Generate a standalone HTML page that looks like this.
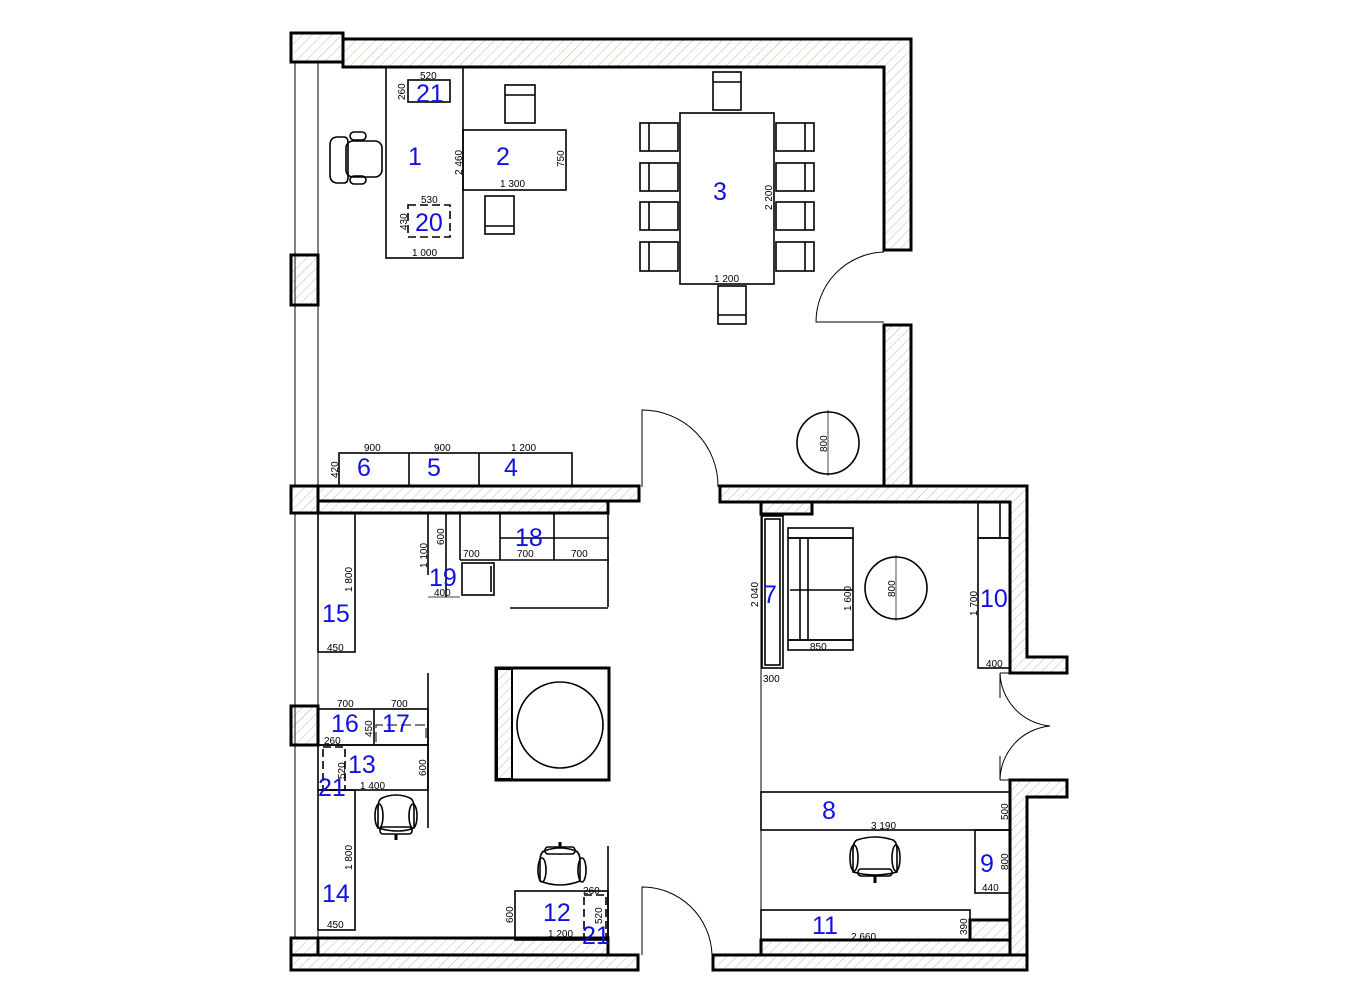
<!DOCTYPE html>
<html><head><meta charset="utf-8"><style>
html,body{margin:0;padding:0;background:#fff;}
svg{display:block;}
.d{font-family:"Liberation Sans",sans-serif;font-size:10px;fill:#000;}
.n{font-family:"Liberation Sans",sans-serif;font-size:25px;fill:#1010e0;}
</style></head><body>
<svg width="1352" height="1000" viewBox="0 0 1352 1000" xmlns="http://www.w3.org/2000/svg">
<defs>
<pattern id="h" patternUnits="userSpaceOnUse" width="7" height="7" patternTransform="rotate(45)">
<rect width="7" height="7" fill="#fff"/>
<line x1="0" y1="0" x2="0" y2="7" stroke="#a9c9a0" stroke-width="1"/>
</pattern>
</defs>
<g stroke="#000" fill="url(#h)" stroke-width="3">
<!-- top wall -->
<polygon points="343,39 911,39 911,250 884,250 884,67 343,67"/>
<rect x="291" y="33" width="52" height="29"/>
<rect x="884" y="325" width="27" height="162"/>
<!-- left pillar -->
<rect x="291" y="255" width="27" height="50"/>
<!-- middle walls -->
<rect x="291" y="486" width="27" height="27"/>
<rect x="318" y="486" width="321" height="15"/>
<rect x="318" y="501" width="290" height="12"/>
<polygon points="720,486 1027,486 1027,657 1067,657 1067,673 1010,673 1010,502 720,502"/>
<rect x="761" y="502" width="51" height="12"/>
<polygon points="1010,780 1067,780 1067,797 1027,797 1027,970 1010,970"/>
<rect x="291" y="706" width="27" height="39"/>
<!-- bottom walls -->
<rect x="291" y="938" width="27" height="17"/>
<rect x="318" y="938" width="290" height="17"/>
<rect x="291" y="955" width="347" height="15"/>
<rect x="713" y="955" width="314" height="15"/>
<rect x="761" y="940" width="249" height="15"/>
<rect x="970" y="920" width="40" height="20"/>
</g>
<g stroke="#000" fill="none" stroke-width="1">
<!-- window lines -->
<line x1="295" y1="62" x2="295" y2="486"/><line x1="318" y1="62" x2="318" y2="486"/>
<line x1="295" y1="513" x2="295" y2="938"/><line x1="318" y1="513" x2="318" y2="938"/>
<!-- doors -->
<path d="M884,252 A70,70 0 0 0 816,322 L884,322"/>
<path d="M642,487 L642,410 A76,76 0 0 1 718,487"/>
<path d="M642,955 L642,887 A70,70 0 0 1 712,955"/>
<path d="M1000,673 A55,55 0 0 0 1050,726"/>
<path d="M1000,780 A55,55 0 0 1 1050,726"/>
<line x1="1000" y1="673" x2="1010" y2="673"/><line x1="1000" y1="780" x2="1010" y2="780"/>
<line x1="1000" y1="673" x2="1000" y2="698"/><line x1="1000" y1="780" x2="1000" y2="756"/>
<!-- room right interior line -->
<line x1="761" y1="514" x2="761" y2="940"/>
</g>
<g stroke="#000" fill="none" stroke-width="1.6">
<!-- desk 1,2 -->
<rect x="386" y="67" width="77" height="191"/>
<rect x="463" y="130" width="103" height="60"/>
<rect x="408" y="80" width="42" height="22"/>
<rect x="408" y="205" width="42" height="32" stroke-dasharray="8,4"/>
<!-- office chair left -->
<path d="M338,137 q-8,0 -8,8 v30 q0,8 8,8 h6 q4,0 4,-6 v-34 q0,-6 -4,-6z"/>
<rect x="346" y="141" width="36" height="36" rx="7"/>
<rect x="350" y="132" width="16" height="8" rx="4"/>
<rect x="350" y="176" width="16" height="8" rx="4"/>
<!-- small chairs -->
<rect x="505" y="85" width="30" height="38"/><line x1="505" y1="95" x2="535" y2="95"/>
<rect x="485" y="196" width="29" height="38"/><line x1="485" y1="226" x2="514" y2="226"/>
<!-- table 3 -->
<rect x="680" y="113" width="94" height="171"/>
<rect x="713" y="72" width="28" height="38"/><line x1="713" y1="82" x2="741" y2="82"/>
<rect x="718" y="286" width="28" height="38"/><line x1="718" y1="315" x2="746" y2="315"/>
<rect x="640" y="123" width="38" height="28"/><line x1="649" y1="123" x2="649" y2="151"/>
<rect x="640" y="163" width="38" height="28"/><line x1="649" y1="163" x2="649" y2="191"/>
<rect x="640" y="202" width="38" height="28"/><line x1="649" y1="202" x2="649" y2="230"/>
<rect x="640" y="242" width="38" height="29"/><line x1="649" y1="242" x2="649" y2="271"/>
<rect x="776" y="123" width="38" height="28"/><line x1="805" y1="123" x2="805" y2="151"/>
<rect x="776" y="163" width="38" height="28"/><line x1="805" y1="163" x2="805" y2="191"/>
<rect x="776" y="202" width="38" height="28"/><line x1="805" y1="202" x2="805" y2="230"/>
<rect x="776" y="242" width="38" height="29"/><line x1="805" y1="242" x2="805" y2="271"/>
<circle cx="828" cy="443" r="31"/><line x1="828" y1="410" x2="828" y2="476" stroke-width="0.7"/>
<!-- cabinets 4,5,6 -->
<rect x="339" y="453" width="233" height="33"/>
<line x1="409" y1="453" x2="409" y2="486"/><line x1="479" y1="453" x2="479" y2="486"/>
<!-- 15 -->
<rect x="318" y="513" width="37" height="139"/>
<!-- kitchen 18 -->
<line x1="428" y1="513" x2="428" y2="575"/>
<line x1="446" y1="513" x2="446" y2="597"/>
<line x1="460" y1="513" x2="460" y2="560"/>
<line x1="500" y1="513" x2="500" y2="560"/>
<line x1="554" y1="513" x2="554" y2="560"/>
<line x1="460" y1="560" x2="609" y2="560"/>
<line x1="500" y1="538" x2="609" y2="538"/>
<line x1="608" y1="513" x2="608" y2="607"/>
<line x1="510" y1="608" x2="608" y2="608"/>
<rect x="462" y="563" width="32" height="32"/><line x1="491" y1="566" x2="491" y2="592"/>
<line x1="428" y1="597" x2="460" y2="597" stroke-width="0.8"/>
<!-- column -->
<rect x="496" y="668" width="113" height="112" stroke-width="3"/>
<rect x="497" y="669" width="15" height="110" fill="url(#h)" stroke-width="2"/>
<circle cx="560" cy="725" r="43"/>
<!-- 16,17,13 -->
<line x1="428" y1="673" x2="428" y2="828"/>
<rect x="318" y="709" width="110" height="36"/>
<line x1="374" y1="709" x2="374" y2="745"/>
<path d="M376,742 v-17 h50 v17" stroke-dasharray="10,4" stroke-width="1"/>
<rect x="318" y="745" width="110" height="45"/>
<rect x="323" y="747" width="22" height="43" stroke-dasharray="8,4"/>
<!-- 14 -->
<rect x="318" y="790" width="37" height="140"/>
<!-- chair 13 -->
<path d="M382,798 q14,-6 28,0 q4,2 4,10 v20 q-14,6 -36,0 v-20 q0,-8 4,-10z"/>
<ellipse cx="379" cy="816" rx="4" ry="12"/><ellipse cx="413" cy="816" rx="4" ry="12"/>
<rect x="380" y="827" width="32" height="7" rx="3"/><line x1="396" y1="834" x2="396" y2="840" stroke-width="3"/>
<!-- 12 -->
<line x1="608" y1="846" x2="608" y2="940"/>
<rect x="515" y="891" width="93" height="49"/>
<rect x="584" y="895" width="22" height="43" stroke-dasharray="8,4"/>
<path d="M544,851 q16,-6 32,0 q4,2 4,10 v20 q-20,8 -40,0 v-20 q0,-8 4,-10z"/>
<ellipse cx="542" cy="870" rx="4" ry="12"/><ellipse cx="582" cy="870" rx="4" ry="12"/>
<rect x="545" y="847" width="30" height="7" rx="3"/><line x1="560" y1="842" x2="560" y2="847" stroke-width="3"/>
<!-- room right -->
<rect x="762" y="516" width="21" height="152"/><rect x="765" y="519" width="15" height="146"/>
<rect x="788" y="528" width="65" height="10"/><rect x="788" y="640" width="65" height="10"/>
<rect x="788" y="538" width="65" height="102"/>
<line x1="800" y1="538" x2="800" y2="640"/><line x1="808" y1="538" x2="808" y2="640"/>
<line x1="790" y1="590" x2="853" y2="590"/>
<circle cx="896" cy="588" r="31"/><line x1="896" y1="555" x2="896" y2="621" stroke-width="0.7"/>
<rect x="978" y="502" width="32" height="36"/><line x1="1000" y1="502" x2="1000" y2="538"/>
<rect x="978" y="538" width="32" height="130"/>
<rect x="761" y="792" width="249" height="38"/>
<rect x="975" y="830" width="35" height="63"/>
<rect x="761" y="910" width="209" height="30"/>
<!-- chair 8 -->
<path d="M857,840 q18,-6 36,0 q4,2 4,10 v22 q-22,6 -44,0 v-22 q0,-8 4,-10z"/>
<ellipse cx="854" cy="858" rx="4" ry="13"/><ellipse cx="896" cy="858" rx="4" ry="13"/>
<rect x="858" y="869" width="34" height="7" rx="3"/><line x1="875" y1="876" x2="875" y2="883" stroke-width="3"/>
</g>
<!-- dimension text -->
<g class="d">
<text x="420" y="79">520</text>
<text x="405" y="100" transform="rotate(-90 405 100)">260</text>
<text x="462" y="175" transform="rotate(-90 462 175)">2 460</text>
<text x="500" y="187">1 300</text>
<text x="564" y="167" transform="rotate(-90 564 167)">750</text>
<text x="421" y="203">530</text>
<text x="407" y="230" transform="rotate(-90 407 230)">430</text>
<text x="412" y="256">1 000</text>
<text x="772" y="210" transform="rotate(-90 772 210)">2 200</text>
<text x="714" y="282">1 200</text>
<text x="827" y="452" transform="rotate(-90 827 452)">800</text>
<text x="364" y="451">900</text>
<text x="434" y="451">900</text>
<text x="511" y="451">1 200</text>
<text x="338" y="478" transform="rotate(-90 338 478)">420</text>
<text x="352" y="592" transform="rotate(-90 352 592)">1 800</text>
<text x="327" y="651">450</text>
<text x="444" y="545" transform="rotate(-90 444 545)">600</text>
<text x="427" y="568" transform="rotate(-90 427 568)">1 100</text>
<text x="463" y="557">700</text>
<text x="517" y="557">700</text>
<text x="571" y="557">700</text>
<text x="434" y="596">400</text>
<text x="337" y="707">700</text>
<text x="391" y="707">700</text>
<text x="372" y="737" transform="rotate(-90 372 737)">450</text>
<text x="324" y="744">260</text>
<text x="345" y="779" transform="rotate(-90 345 779)">520</text>
<text x="426" y="776" transform="rotate(-90 426 776)">600</text>
<text x="360" y="789">1 400</text>
<text x="352" y="870" transform="rotate(-90 352 870)">1 800</text>
<text x="327" y="928">450</text>
<text x="583" y="894">260</text>
<text x="513" y="923" transform="rotate(-90 513 923)">600</text>
<text x="602" y="924" transform="rotate(-90 602 924)">520</text>
<text x="548" y="937">1 200</text>
<text x="758" y="607" transform="rotate(-90 758 607)">2 040</text>
<text x="851" y="611" transform="rotate(-90 851 611)">1 600</text>
<text x="810" y="650">850</text>
<text x="895" y="597" transform="rotate(-90 895 597)">800</text>
<text x="763" y="682">300</text>
<text x="977" y="616" transform="rotate(-90 977 616)">1 700</text>
<text x="986" y="667">400</text>
<text x="1008" y="820" transform="rotate(-90 1008 820)">500</text>
<text x="871" y="829">3 190</text>
<text x="1008" y="870" transform="rotate(-90 1008 870)">800</text>
<text x="982" y="891">440</text>
<text x="967" y="935" transform="rotate(-90 967 935)">390</text>
<text x="851" y="940">2 660</text>
</g>
<!-- numbers -->
<g class="n">
<text x="416" y="102">21</text>
<text x="408" y="165">1</text>
<text x="496" y="165">2</text>
<text x="415" y="231">20</text>
<text x="713" y="200">3</text>
<text x="504" y="476">4</text>
<text x="427" y="476">5</text>
<text x="357" y="476">6</text>
<text x="515" y="546">18</text>
<text x="429" y="586">19</text>
<text x="322" y="622">15</text>
<text x="331" y="732">16</text>
<text x="382" y="732">17</text>
<text x="348" y="773">13</text>
<text x="318" y="796">21</text>
<text x="322" y="902">14</text>
<text x="543" y="921">12</text>
<text x="582" y="944">21</text>
<text x="763" y="603">7</text>
<text x="980" y="607">10</text>
<text x="822" y="819">8</text>
<text x="980" y="872">9</text>
<text x="812" y="934">11</text>
</g>
</svg>
</body></html>
